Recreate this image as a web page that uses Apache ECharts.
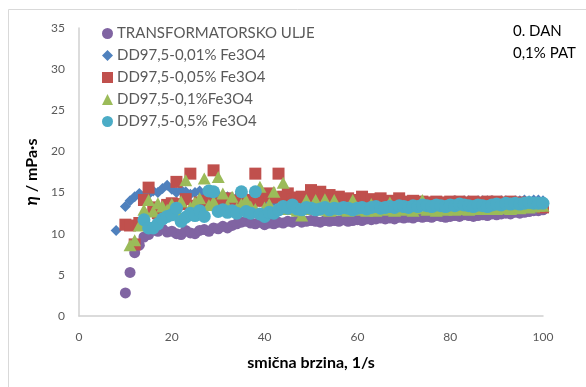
<!DOCTYPE html>
<html>
<head>
<meta charset="utf-8">
<script src="https://cdn.jsdelivr.net/npm/echarts@6/dist/echarts.min.js"></script>
<style>
  html, body { margin: 0; padding: 0; background: #fff; }
  #chart { width: 586px; height: 387px; }
</style>
</head>
<body>
<div id="chart"></div>
<script>
// Shear rate, 1/s
const shearRate = [
  8, 9, 10, 11, 12, 13, 14, 15, 16, 17, 18, 19,
  20, 21, 22, 23, 24, 25, 26, 27, 28, 29,
  30, 31, 32, 33, 34, 35, 36, 37, 38, 39,
  40, 41, 42, 43, 44, 45, 46, 47, 48, 49,
  50, 51, 52, 53, 54, 55, 56, 57, 58, 59,
  60, 61, 62, 63, 64, 65, 66, 67, 68, 69,
  70, 71, 72, 73, 74, 75, 76, 77, 78, 79,
  80, 81, 82, 83, 84, 85, 86, 87, 88, 89,
  90, 91, 92, 93, 94, 95, 96, 97, 98, 99,
  100
];

const seriesNames = [
  'TRANSFORMATORSKO ULJE',
  'DD97,5-0,01% Fe3O4',
  'DD97,5-0,05% Fe3O4',
  'DD97,5-0,1%Fe3O4',
  'DD97,5-0,5% Fe3O4'
];

// Viscosity, mPa·s (aligned with shearRate; null = no measurement)
const oilVisc = [
  null, null,
  2.8, 5.3, 7.7, 8.6, 9.6, 9.9, 10.5, 10.3, 10.6, 10.2,
  10.3, 10.0, 9.9, 10.4, 10.1, 10.0, 10.4, 10.5, 10.3, 10.7,
  10.6, 10.9, 10.7, 11.0, 11.2, 11.4, 11.5, 11.3, 11.2, 11.4,
  11.1, 11.3, 11.2, 11.4, 11.3, 11.5, 11.4, 11.6, 11.4, 11.5,
  11.6, 11.5, 11.4, 11.6, 11.5, 11.6, 11.5, 11.7, 11.5, 11.6,
  11.7, 11.6, 11.8, 11.7, 11.8, 11.9, 11.8, 11.9, 11.8, 12.0,
  11.9, 12.0, 11.9, 12.1, 12.0, 12.1, 12.0, 12.2, 12.1, 12.0,
  12.1, 12.2, 12.1, 12.3, 12.2, 12.1, 12.2, 12.3, 12.2, 12.4,
  12.3, 12.4, 12.5, 12.4, 12.6, 12.5, 12.6, 12.7, 12.8, 12.8,
  12.9
];

const fe001Visc = [
  10.4, null,
  13.3, 14.0, 14.5, 14.9, 14.6, 14.8, 15.2, 15.0, 15.5, 15.9,
  15.4, 15.0, 15.3, 15.1, 14.8, 15.0, 15.2, 14.7, 14.9, 14.4,
  14.6, 14.3, 14.5, 14.2, 14.4, 14.1, 14.3, 14.0, 14.2, 13.9,
  14.1, 13.8, 14.0, 13.9, 13.8, 14.0, 13.7, 13.9, 13.8, 14.2,
  13.7, 13.8, 13.6, 13.7, 13.8, 13.6, 13.7, 13.5, 13.6, 13.7,
  13.5, 13.6, 13.7, 13.6, 13.9, 13.6, 13.7, 13.8, 13.6, 13.7,
  13.8, 13.7, 13.8, 13.7, 13.8, 13.9, 13.8, 13.9, 13.9, 13.8,
  13.9, 14.0, 13.9, 14.0, 14.0, 13.9, 14.0, 14.0, 14.0, 14.0,
  13.9, 14.0, 14.0, 13.9, 14.0, 14.0, 14.1, 14.0, 14.1, 14.1,
  14.0
];

const fe005Visc = [
  null, null,
  11.1, 11.0, 8.7, 11.3, 14.1, 15.6, 13.2, 12.5, 13.0, 13.5,
  13.7, 16.3, 13.6, 14.2, 17.3, 13.4, 13.8, 14.0, 13.6, 17.7,
  14.1, 13.8, 14.3, 13.9, 14.0, 14.2, 13.8, 14.1, 17.3, 14.0,
  14.6, 14.9, 14.4, 17.3, 14.5, 14.9, 14.2, 14.4, 14.5, 14.0,
  15.3, 14.6, 15.1, 14.4, 14.7, 14.2, 14.5, 14.0, 14.3, 13.9,
  14.1, 14.5, 13.9, 14.2, 13.8, 14.3, 13.9, 14.0, 13.8, 14.3,
  13.9, 13.8, 14.0, 13.7, 13.9, 13.8, 13.7, 13.9, 13.6, 13.8,
  13.9, 13.7, 13.9, 13.8, 13.7, 13.9, 13.8, 13.6, 13.9, 13.8,
  13.9, 13.7, 13.8, 13.9, 13.7, 13.8, 13.6, 13.7, 13.5, 13.4,
  13.2
];

const fe01Visc = [
  null, null,
  null, 8.6, 9.2, 11.0, 12.9, 14.1, 12.7, 13.7, 13.3, 12.9,
  13.6, 12.8, 13.9, 16.5, 13.2, 13.8, 14.3, 16.7, 13.5, 13.9,
  16.9, 14.9, 13.4, 14.5, 13.1, 13.6, 14.1, 13.3, 13.0, 15.7,
  13.2, 13.6, 15.1, 13.2, 16.2, 13.0, 13.5, 12.8, 12.2, 14.1,
  13.0, 14.1, 12.9, 14.2, 12.8, 14.1, 12.9, 13.2, 12.8, 14.1,
  12.9, 13.2, 12.8, 13.6, 12.8, 13.1, 12.9, 13.8, 12.8, 13.0,
  12.9, 13.2, 12.8, 13.1, 14.1, 12.9, 13.0, 12.8, 13.2, 12.9,
  13.1, 12.9, 13.0, 13.2, 12.9, 13.1, 13.0, 13.3, 13.0, 13.1,
  13.0, 13.2, 13.1, 13.0, 13.2, 13.1, 13.3, 13.2, 13.3, 13.4,
  13.4
];

const fe05Visc = [
  null, null,
  null, null, null, null, 11.7, 10.7, 10.7, 11.2, 11.8, 12.1,
  12.3, 13.1, 11.5, 12.0, 12.5, 12.2, 12.8, 12.1, 15.2, 15.1,
  12.7, 12.9, 12.6, 12.8, 12.5, 15.1, 12.7, 12.5, 15.1, 12.4,
  12.1, 12.6, 12.5, 12.9, 13.3, 13.1, 13.5, 13.0, 12.9, 13.2,
  13.1, 12.9, 13.0, 13.2, 12.9, 13.1, 13.0, 13.2, 13.1, 12.9,
  13.1, 13.2, 13.0, 13.2, 13.3, 13.1, 13.2, 13.3, 13.2, 13.4,
  13.3, 13.2, 13.4, 13.3, 13.5, 13.4, 13.3, 13.5, 13.4, 13.3,
  13.5, 13.4, 13.6, 13.5, 13.4, 13.3, 13.5, 13.4, 13.3, 13.5,
  13.6, 13.5, 13.7, 13.6, 13.7, 13.6, 13.7, 13.8, 13.7, 13.7,
  13.7
];

const xTicks = [0, 20, 40, 60, 80, 100];
const yTicks = [0, 5, 10, 15, 20, 25, 30, 35];

const FONT = 'Lato';
const LABEL_GREY = '#595959';

function pairs(values) {
  const out = [];
  shearRate.forEach((x, i) => {
    if (values[i] !== null) out.push([x, values[i]]);
  });
  return out;
}

const styles = [
  { color: '#8064A2', symbol: 'circle', size: 11 },
  { color: '#4F81BD', symbol: 'diamond', size: 11 },
  { color: '#C0504D', symbol: 'rect', size: 12 },
  { color: '#9BBB59', symbol: 'triangle', size: [13, 12] },
  { color: '#4BACC6', symbol: 'circle', size: 13 }
];
const valueSets = [oilVisc, fe001Visc, fe005Visc, fe01Visc, fe05Visc];

const chart = echarts.init(document.getElementById('chart'), null, { renderer: 'canvas' });

chart.setOption({
  animation: false,
  backgroundColor: '#ffffff',
  textStyle: { fontFamily: FONT },
  grid: { left: 79, right: 43, top: 28, bottom: 71, containLabel: false },
  legend: {
    orient: 'vertical',
    left: 102,
    top: 26,
    itemWidth: 11,
    itemHeight: 11,
    itemGap: 7,
    padding: 0,
    textStyle: { fontFamily: FONT, fontSize: 15, color: LABEL_GREY, padding: [0, 0, 0, -1] },
    data: seriesNames
  },
  xAxis: {
    type: 'value',
    min: xTicks[0],
    max: xTicks[xTicks.length - 1],
    interval: 20,
    name: 'smična brzina, 1/s',
    nameLocation: 'middle',
    nameGap: 39,
    nameTextStyle: { fontFamily: FONT, fontSize: 16, fontWeight: 'bold', color: '#000' },
    axisLine: { show: true, lineStyle: { color: '#d0d0d0', width: 1.5 } },
    axisTick: { show: false },
    splitLine: { show: false },
    axisLabel: { fontFamily: FONT, fontSize: 12, color: LABEL_GREY, margin: 15 }
  },
  yAxis: {
    type: 'value',
    min: yTicks[0],
    max: yTicks[yTicks.length - 1],
    interval: 5,
    name: '{eta|η} / mPa·s',
    nameLocation: 'middle',
    nameRotate: 90,
    nameGap: 32,
    nameTextStyle: {
      fontFamily: FONT, fontSize: 16, fontWeight: 'bold', color: '#000',
      rich: {
        eta: { fontFamily: FONT, fontSize: 17, fontWeight: 'bold', fontStyle: 'italic', color: '#000' }
      }
    },
    axisLine: { show: true, lineStyle: { color: '#d0d0d0', width: 1.5 } },
    axisTick: { show: false },
    splitLine: { show: false },
    axisLabel: { fontFamily: FONT, fontSize: 12, color: LABEL_GREY, margin: 14 }
  },
  graphic: [
    {
      type: 'rect',
      silent: true,
      z: -10,
      shape: { x: 8.5, y: 9.5, width: 620, height: 420 },
      style: { fill: 'none', stroke: '#d9d9d9', lineWidth: 1 }
    },
    {
      type: 'text',
      left: 513,
      top: 24,
      style: { text: '0. DAN', fontFamily: FONT, fontSize: 15, fill: '#000' }
    },
    {
      type: 'text',
      left: 513,
      top: 46,
      style: { text: '0,1% PAT', fontFamily: FONT, fontSize: 15, fill: '#000' }
    }
  ],
  series: seriesNames.map((name, k) => ({
    name: name,
    type: 'scatter',
    symbol: styles[k].symbol,
    symbolSize: styles[k].size,
    itemStyle: { color: styles[k].color, opacity: 1 },
    emphasis: { disabled: true },
    data: pairs(valueSets[k]),
    z: 2 + k
  }))
});
</script>
</body>
</html>
